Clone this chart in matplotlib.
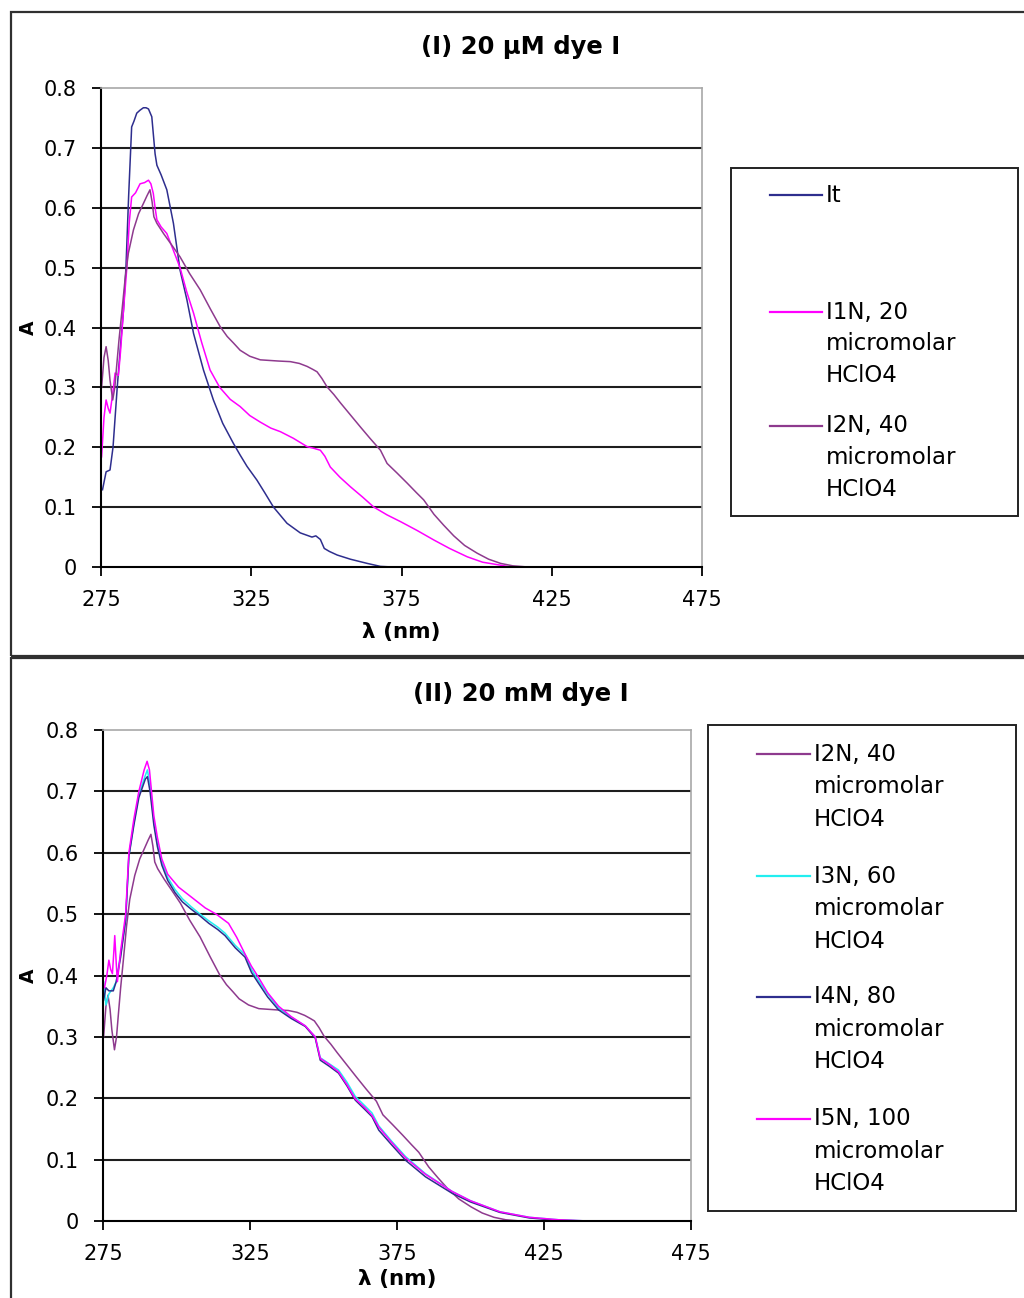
import matplotlib
matplotlib.use('Agg')
import matplotlib.pyplot as plt
from matplotlib.lines import Line2D
from matplotlib.patches import Rectangle

W, H, DPI = 1024, 1298, 100

# ---------------- data ----------------
X_TICKS = [275, 325, 375, 425, 475]
Y_TICKS = [0, 0.1, 0.2, 0.3, 0.4, 0.5, 0.6, 0.7, 0.8]
Y_TICK_LABELS = ['0', '0.1', '0.2', '0.3', '0.4', '0.5', '0.6', '0.7', '0.8']

# panel (I), 20 uM dye
IT_X = [275.5, 276.7, 278.0, 279.0, 280.4, 281.5, 282.5, 283.3, 284.2, 285.2, 286.0, 286.9,
        288.0, 289.1, 290.0, 290.8, 291.9, 293.0, 293.6, 295.0, 296.9, 299.1, 301.3, 303.6,
        305.8, 309.1, 312.4, 315.5, 319.0, 321.3, 323.6, 326.9, 329.5, 332.4, 336.9, 341.3,
        345.2, 346.5, 348.0, 349.3, 351.0, 353.6, 358.0, 363.6, 368.0, 372.0, 380, 400, 425, 450, 475]
IT_Y = [0.129, 0.159, 0.162, 0.20, 0.30, 0.37, 0.43, 0.50, 0.62, 0.735, 0.745, 0.758,
        0.763, 0.767, 0.767, 0.765, 0.752, 0.69, 0.671, 0.655, 0.63, 0.574, 0.496, 0.446,
        0.39, 0.329, 0.279, 0.24, 0.207, 0.187, 0.168, 0.145, 0.124, 0.10, 0.073, 0.057,
        0.05, 0.052, 0.046, 0.031, 0.026, 0.020, 0.013, 0.006, 0.001, 0.0, 0, 0, 0, 0, 0]

I1N_X = [275.2, 276.0, 276.7, 277.4, 278.0, 278.9, 279.7, 280.8, 281.5, 282.5, 283.6, 284.4,
         285.2, 286.5, 288.0, 289.5, 290.8, 291.6, 292.4, 293.0, 293.6, 295.0, 296.9, 299.0,
         301.3, 303.5, 305.8, 308.5, 311.3, 314.5, 318.0, 321.3, 324.5, 328.0, 331.5, 334.7,
         339.0, 343.6, 346.0, 348.0, 349.5, 351.3, 354.5, 358.0, 362.0, 365.8, 370.2, 374.7,
         380.2, 385.8, 391.0, 396.9, 402.0, 408.0, 411.3, 425, 450, 475]
I1N_Y = [0.184, 0.25, 0.279, 0.265, 0.257, 0.29, 0.324, 0.32, 0.36, 0.43, 0.50, 0.575,
         0.618, 0.625, 0.64, 0.642, 0.646, 0.64, 0.624, 0.60, 0.58, 0.568, 0.557, 0.53,
         0.50, 0.46, 0.424, 0.375, 0.329, 0.30, 0.28, 0.268, 0.253, 0.242, 0.232, 0.226,
         0.215, 0.201, 0.198, 0.195, 0.185, 0.167, 0.15, 0.134, 0.117, 0.10, 0.087, 0.0757,
         0.061, 0.045, 0.031, 0.017, 0.008, 0.003, 0.0, 0, 0, 0]

I2N_X = [275.2, 276.0, 276.7, 277.4, 278.0, 278.9, 279.6, 280.2, 281.0, 281.9, 283.0, 284.1,
         285.8, 287.5, 289.1, 290.3, 291.3, 292.0, 292.6, 293.6, 295.8, 298.5, 301.3, 304.5,
         308.0, 311.5, 314.7, 317.0, 319.1, 321.3, 324.5, 328.0, 331.0, 334.0, 338.0, 341.0,
         343.6, 345.5, 346.9, 348.5, 350.2, 352.5, 354.7, 358.0, 361.3, 364.5, 368.0, 370.2,
         373.5, 376.9, 380.0, 382.4, 385.8, 389.0, 392.4, 396.0, 400.2, 404.0, 408.0, 412.0,
         417.0, 425, 450, 475]
I2N_Y = [0.30, 0.35, 0.368, 0.345, 0.312, 0.279, 0.30, 0.335, 0.38, 0.424, 0.48, 0.524,
         0.563, 0.59, 0.607, 0.62, 0.63, 0.61, 0.585, 0.574, 0.557, 0.538, 0.518, 0.49,
         0.463, 0.43, 0.401, 0.385, 0.374, 0.362, 0.352, 0.346, 0.345, 0.344, 0.343, 0.340,
         0.335, 0.330, 0.326, 0.315, 0.301, 0.288, 0.274, 0.254, 0.234, 0.215, 0.195, 0.173,
         0.157, 0.14, 0.124, 0.112, 0.088, 0.07, 0.052, 0.036, 0.023, 0.013, 0.006, 0.002,
         0.0, 0, 0, 0]

# panel (II), 20 mM dye
I3N_X = [275.2, 276.0, 277.0, 278.5, 279.5, 281.0, 282.7, 283.8, 285.5, 287.2, 289.4, 290.1,
         291.0, 292.3, 293.5, 295.0, 297.0, 299.5, 302.0, 305.0, 308.0, 311.0, 314.0, 316.5,
         320.0, 323.3, 325.5, 327.8, 331.0, 334.7, 339.0, 343.8, 347.2, 348.9, 352.0, 355.1,
         358.0, 360.8, 364.0, 366.5, 368.8, 373.0, 377.9, 384.7, 393.8, 400, 410, 420, 430, 440, 475]
I3N_Y = [0.39, 0.352, 0.37, 0.38, 0.39, 0.435, 0.49, 0.595, 0.648, 0.695, 0.726, 0.735,
         0.71, 0.652, 0.615, 0.585, 0.56, 0.54, 0.525, 0.512, 0.50, 0.489, 0.479, 0.469,
         0.449, 0.434, 0.41, 0.392, 0.37, 0.347, 0.332, 0.318, 0.300, 0.266, 0.256, 0.246,
         0.226, 0.203, 0.188, 0.176, 0.155, 0.131, 0.105, 0.077, 0.048, 0.033, 0.015, 0.006,
         0.002, 0.0, 0.0]

I4N_X = [275.2, 276.0, 277.0, 278.5, 279.5, 281.0, 282.7, 283.8, 285.5, 287.2, 289.4, 290.1,
         291.0, 292.3, 293.5, 295.0, 297.0, 299.5, 302.0, 305.0, 308.0, 311.0, 314.0, 316.5,
         320.0, 323.3, 325.5, 327.8, 331.0, 334.7, 339.0, 343.8, 347.2, 348.9, 352.0, 355.1,
         358.0, 360.8, 364.0, 366.5, 368.8, 373.0, 377.9, 384.7, 393.8, 400, 410, 420, 430, 440, 475]
I4N_Y = [0.36, 0.38, 0.375, 0.375, 0.39, 0.43, 0.49, 0.594, 0.645, 0.69, 0.72, 0.724,
         0.70, 0.645, 0.61, 0.58, 0.555, 0.535, 0.52, 0.508, 0.497, 0.485, 0.475, 0.465,
         0.445, 0.43, 0.405, 0.388, 0.365, 0.344, 0.33, 0.317, 0.298, 0.262, 0.252, 0.241,
         0.22, 0.197, 0.182, 0.17, 0.148, 0.125, 0.099, 0.072, 0.045, 0.031, 0.014, 0.005,
         0.001, 0.0, 0.0]

I5N_X = [275.5, 276.3, 277.0, 277.6, 278.2, 278.7, 279.0, 279.5, 279.9, 281.0, 282.7, 283.8,
         285.5, 287.2, 289.0, 290.0, 290.8, 292.3, 293.5, 295.0, 297.0, 300.7, 305.0, 309.8,
         313.5, 317.7, 320.5, 323.3, 325.5, 327.5, 331.0, 334.7, 339.0, 343.8, 347.2, 348.9,
         352.0, 355.1, 358.0, 360.8, 364.0, 366.5, 368.8, 373.0, 377.9, 384.7, 393.8, 400,
         410, 420, 430, 440, 475]
I5N_Y = [0.38, 0.40, 0.425, 0.41, 0.403, 0.44, 0.465, 0.42, 0.39, 0.44, 0.50, 0.60,
         0.655, 0.70, 0.735, 0.749, 0.735, 0.66, 0.625, 0.59, 0.565, 0.544, 0.528, 0.51,
         0.50, 0.485, 0.462, 0.435, 0.415, 0.40, 0.372, 0.35, 0.333, 0.318, 0.300, 0.265,
         0.255, 0.243, 0.222, 0.199, 0.185, 0.172, 0.153, 0.129, 0.103, 0.076, 0.048, 0.033,
         0.015, 0.006, 0.002, 0.0, 0.0]

LBL_IT = 'It'
LBL_I1N = 'I1N, 20\nmicromolar\nHClO4'
LBL_I2N = 'I2N, 40\nmicromolar\nHClO4'
LBL_I3N = 'I3N, 60\nmicromolar\nHClO4'
LBL_I4N = 'I4N, 80\nmicromolar\nHClO4'
LBL_I5N = 'I5N, 100\nmicromolar\nHClO4'

NAVY = '#2e2e8e'
MAGENTA = '#ff00ff'
PURPLE = '#8e3a8e'
CYAN = '#22eef0'

FONT = 'DejaVu Sans'
TICK_FS = 15
LEG_FS = 16.5
TITLE_FS = 17.5
LW = 1.1

plt.rcParams['font.family'] = [FONT]


def fx(px):
    return px / W


def fy(py):
    return 1 - py / H


def add_axes_px(fig, left, top, right, bottom):
    return fig.add_axes([fx(left), fy(bottom), (right - left) / W, (bottom - top) / H])


def style_axes(ax, top_px, bottom_px, left_px, right_px, xlabel_top_px):
    ax.set_xlim(275, 475)
    ax.set_ylim(0, 0.8)
    ax.set_xticks(X_TICKS)
    ax.set_yticks(Y_TICKS)
    ax.set_yticklabels(Y_TICK_LABELS)
    ax.tick_params(axis='both', direction='out', length=6.5, width=1.3,
                   labelsize=TICK_FS, pad=11, colors='black')
    ax.tick_params(axis='x', pad=10)
    for s in ('left', 'bottom'):
        ax.spines[s].set_color('black')
        ax.spines[s].set_linewidth(1.5)
    for s in ('top', 'right'):
        ax.spines[s].set_color('#a8a8a8')
        ax.spines[s].set_linewidth(1.2)
    ax.set_axisbelow(True)
    ax.yaxis.grid(True, color='#1e1e1e', linewidth=1.5)
    gl = ax.get_ygridlines()
    gl[0].set_visible(False)
    gl[-1].set_visible(False)
    h_px = bottom_px - top_px
    w_px = right_px - left_px
    ax.set_xlabel('λ (nm)', fontsize=TICK_FS + 0.5, fontweight='bold')
    ax.xaxis.set_label_coords(0.5, -(xlabel_top_px - bottom_px) / h_px)
    ax.set_ylabel('A', fontsize=13.5, fontweight='bold')
    ax.yaxis.set_label_coords((38 - left_px) / w_px, 0.5)


def draw_legend(fig, box, x0, x1, xt, entries, y_first, step):
    l, t, r, b = box
    fig.add_artist(Rectangle((fx(l), fy(b)), (r - l) / W, (b - t) / H, transform=fig.transFigure,
                             facecolor='white', edgecolor='#222222', linewidth=1.4))
    for (color, label), y0 in zip(entries, y_first):
        fig.add_artist(Line2D([fx(x0), fx(x1)], [fy(y0), fy(y0)], transform=fig.transFigure,
                              color=color, linewidth=1.6))
        for i, line in enumerate(label.split('\n')):
            fig.text(fx(xt), fy(y0 + i * step), line, fontsize=LEG_FS, va='center', ha='left',
                     color='black')


fig = plt.figure(figsize=(W / DPI, H / DPI), dpi=DPI)
fig.patch.set_facecolor('white')

# outer chart frames
fig.add_artist(Rectangle((fx(10.5), fy(655.5)), (1040 - 10.5) / W, (655.5 - 12) / H,
                         transform=fig.transFigure, fill=False, edgecolor='#303030', linewidth=1.6))
fig.add_artist(Rectangle((fx(10.5), fy(1320)), (1040 - 10.5) / W, (1320 - 658) / H,
                         transform=fig.transFigure, fill=False, edgecolor='#303030', linewidth=1.6))

# ---- panel (I) ----
ax1 = add_axes_px(fig, 101, 88, 702, 567)
ax1.plot(IT_X, IT_Y, color=NAVY, lw=LW)
ax1.plot(I1N_X, I1N_Y, color=MAGENTA, lw=LW)
ax1.plot(I2N_X, I2N_Y, color=PURPLE, lw=LW)
style_axes(ax1, 88, 567, 101, 702, 622)
fig.text(fx(521), fy(47), '(I) 20 µM dye I', fontsize=TITLE_FS, fontweight='bold',
         ha='center', va='center')
draw_legend(fig, (731, 168, 1018, 516), 770, 822, 826,
            [(NAVY, LBL_IT), (MAGENTA, LBL_I1N), (PURPLE, LBL_I2N)],
            [195, 312, 426], 32)

# ---- panel (II) ----
ax2 = add_axes_px(fig, 103, 730, 691, 1221)
ax2.plot(I2N_X, I2N_Y, color=PURPLE, lw=LW)
ax2.plot(I3N_X, I3N_Y, color=CYAN, lw=LW)
ax2.plot(I4N_X, I4N_Y, color=NAVY, lw=LW)
ax2.plot(I5N_X, I5N_Y, color=MAGENTA, lw=LW)
style_axes(ax2, 730, 1221, 103, 691, 1269)
fig.text(fx(521), fy(694), '(II) 20 mM dye I', fontsize=TITLE_FS, fontweight='bold',
         ha='center', va='center')
draw_legend(fig, (708, 725, 1016, 1211), 757, 810, 814,
            [(PURPLE, LBL_I2N), (CYAN, LBL_I3N), (NAVY, LBL_I4N), (MAGENTA, LBL_I5N)],
            [754, 876, 997, 1119], 32.5)

fig.savefig('out.png', dpi=DPI, facecolor='white')
